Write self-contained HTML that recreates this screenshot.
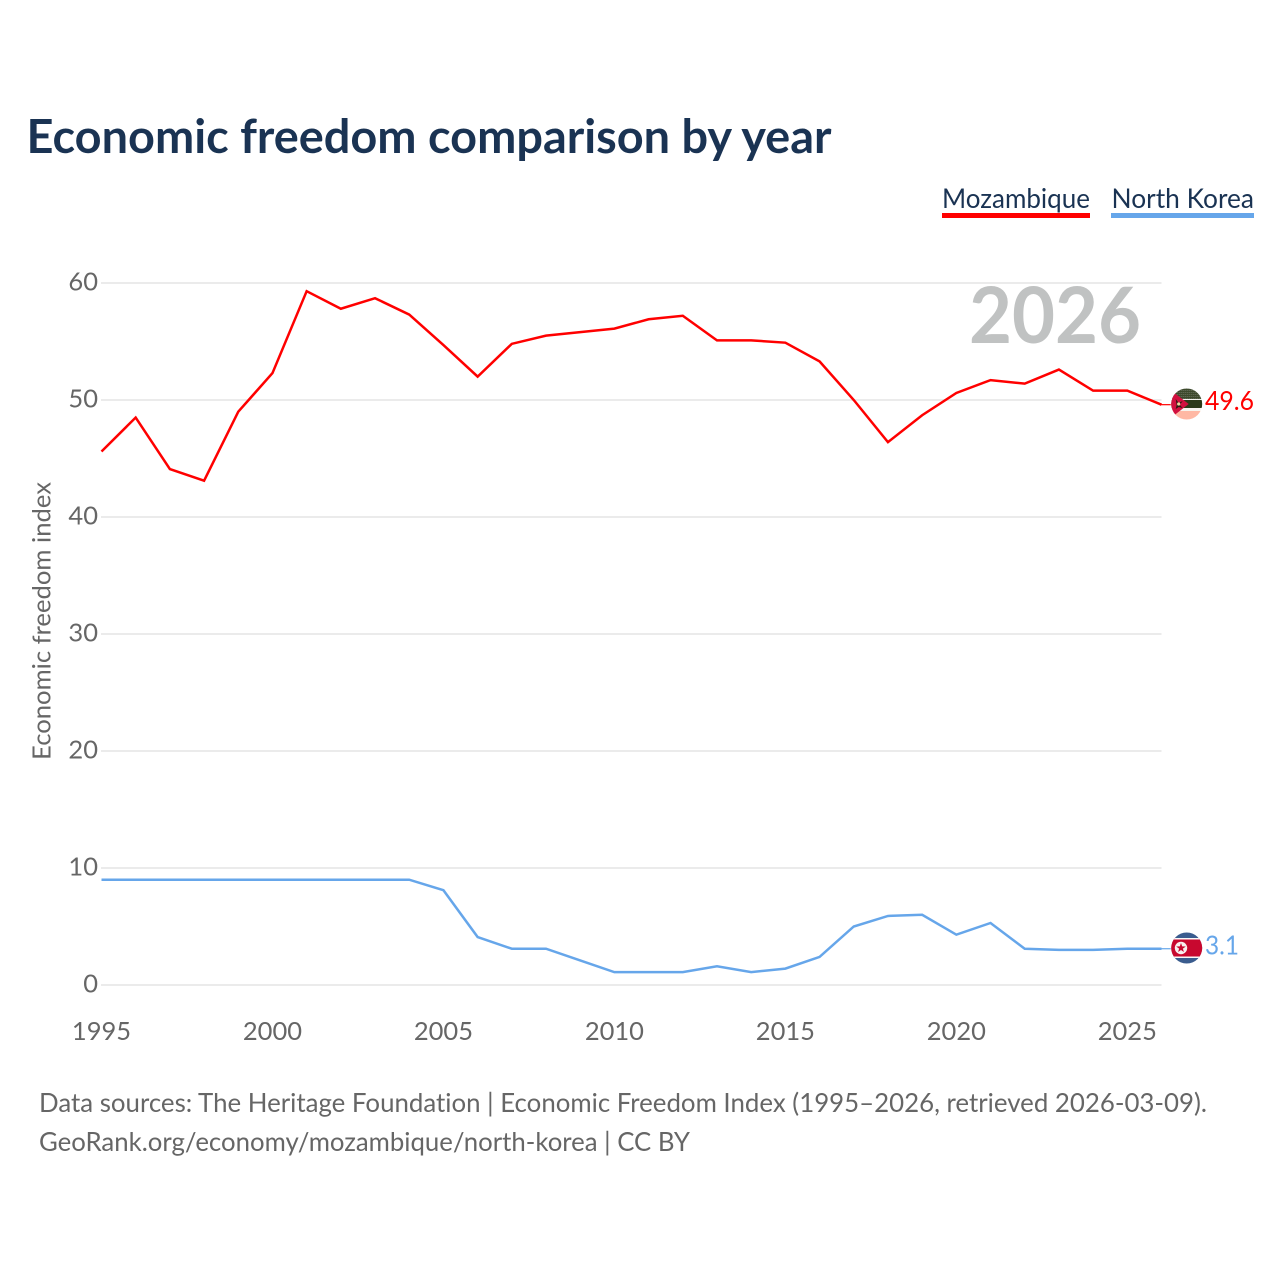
<!DOCTYPE html>
<html lang="en">
<head>
<meta charset="utf-8">
<title>Economic freedom comparison by year</title>
<style>
html,body{margin:0;padding:0;background:#fff;}
svg{display:block;font-family:"Lato","Carlito","Liberation Sans",sans-serif;font-variant-ligatures:none;}
</style>
</head>
<body>
<svg id="chart" xmlns="http://www.w3.org/2000/svg" width="1280" height="1280" viewBox="0 0 1280 1280">
  <rect width="1280" height="1280" fill="#ffffff"/>
  <text x="26.5" y="153" font-size="47" font-weight="700" fill="#1a3353" textLength="805" lengthAdjust="spacingAndGlyphs">Economic freedom comparison by year</text>

  <g>
    <text x="942" y="208" font-size="27.5" fill="#1a3353" textLength="148" lengthAdjust="spacingAndGlyphs">Mozambique</text>
    <rect x="942" y="213" width="148" height="5" fill="#ff0000"/>
  </g>
  <g>
    <text x="1111.5" y="208" font-size="27.5" fill="#1a3353" textLength="142.5" lengthAdjust="spacingAndGlyphs">North Korea</text>
    <rect x="1111" y="213" width="143" height="5" fill="#66a6ea"/>
  </g>

  <g id="grid"></g>
  <g id="yticks"></g>
  <g id="xticks"></g>

  <text transform="translate(50.5 760) rotate(-90)" font-size="25.5" fill="#666666" textLength="278" lengthAdjust="spacingAndGlyphs">Economic freedom index</text>
  <text x="969" y="343" font-size="78" font-weight="700" fill="#c0c2c2" textLength="172" lengthAdjust="spacingAndGlyphs">2026</text>

  <g id="lines"></g>

  <defs>
    <clipPath id="clip-moz"><circle cx="0" cy="0" r="15.5"/></clipPath>
    <clipPath id="clip-nk"><circle cx="0" cy="0" r="15.5"/></clipPath>
    <pattern id="moz-dots" width="2" height="2" patternUnits="userSpaceOnUse">
      <rect width="2" height="2" fill="#3d4a2c"/>
      <rect width="1" height="1" fill="#6b7360"/>
    </pattern>
  </defs>

  <g transform="translate(1186.7 404)">
    <circle r="16" fill="#ffffff"/>
    <g clip-path="url(#clip-moz)">
      <rect x="-16" y="-16" width="32" height="11" fill="url(#moz-dots)"/>
      <rect x="-16" y="-5" width="32" height="1" fill="#f2f2ee"/>
      <rect x="-16" y="-4" width="32" height="8" fill="#2b3a18"/>
      <rect x="-16" y="4" width="32" height="3" fill="#f7f4ee"/>
      <rect x="-16" y="7" width="32" height="9" fill="#ffb8a4"/>
      <path d="M-16,-14 L2,0 L-16,14 Z" fill="#d2103f"/>
      <path d="M-11,-5 L-8,-1 L-4,-3 L-7,1 L-4,4 L-8,3 L-11,5 L-10,1 Z" fill="#2a1a10"/>
      <circle cx="-8" cy="0" r="1.6" fill="#e8d8a0"/>
    </g>
  </g>
  <g transform="translate(1186.7 948)">
    <circle r="16" fill="#ffffff"/>
    <g clip-path="url(#clip-nk)">
      <rect x="-16" y="-16" width="32" height="32" fill="#3a5c8e"/>
      <rect x="-16" y="-10" width="32" height="20" fill="#f7f7f7"/>
      <rect x="-16" y="-8.5" width="32" height="17" fill="#c8082f"/>
      <circle cx="-5.7" cy="0" r="6.2" fill="#f8f0f0"/>
      <path d="M-5.7,-5 L-4.5,-1.6 L-0.9,-1.5 L-3.8,0.6 L-2.8,4 L-5.7,2 L-8.6,4 L-7.6,0.6 L-10.5,-1.5 L-6.9,-1.6 Z" fill="#c8082f"/>
    </g>
  </g>

  <text id="label-moz" x="1205" y="410" font-size="26" fill="#ff0000" textLength="49" lengthAdjust="spacingAndGlyphs"></text>
  <text id="label-nk" x="1205" y="954.5" font-size="26" fill="#66a6ea" textLength="34" lengthAdjust="spacingAndGlyphs"></text>

  <text x="39" y="1112" font-size="26" fill="#666666" textLength="1168" lengthAdjust="spacingAndGlyphs">Data sources: The Heritage Foundation | Economic Freedom Index (1995–2026, retrieved 2026-03-09).</text>
  <text x="39" y="1151" font-size="26" fill="#666666" textLength="651" lengthAdjust="spacingAndGlyphs">GeoRank.org/economy/mozambique/north-korea | CC BY</text>
</svg>
<script>
const years = [1995,1996,1997,1998,1999,2000,2001,2002,2003,2004,2005,2006,2007,2008,2009,2010,2011,2012,2013,2014,2015,2016,2017,2018,2019,2020,2021,2022,2023,2024,2025,2026];
const mozambique = [45.6,48.5,44.1,43.1,49.0,52.3,59.3,57.8,58.7,57.3,54.7,52.0,54.8,55.5,55.8,56.1,56.9,57.2,55.1,55.1,54.9,53.3,50.0,46.4,48.7,50.6,51.7,51.4,52.6,50.8,50.8,49.6];
const northKorea = [9,9,9,9,9,9,9,9,9,9,8.1,4.1,3.1,3.1,2.1,1.1,1.1,1.1,1.6,1.1,1.4,2.4,5.0,5.9,6.0,4.3,5.3,3.1,3.0,3.0,3.1,3.1];
const yTickValues = [0,10,20,30,40,50,60];
const xTickValues = [1995,2000,2005,2010,2015,2020,2025];

const SVG_NS = 'http://www.w3.org/2000/svg';
function xScale(year){ return 101.5 + (year - 1995) * (1161.5 - 101.5) / 31; }
function yScale(value){ return 985 - value * (985 - 283) / 60; }

const gridLayer = document.getElementById('grid');
const yLayer = document.getElementById('yticks');
const xLayer = document.getElementById('xticks');
const lineLayer = document.getElementById('lines');

yTickValues.forEach(function(v){
  const ln = document.createElementNS(SVG_NS, 'line');
  
  
  ln.setAttribute('x1', 101);
  ln.setAttribute('x2', 1161.5);
  ln.setAttribute('y1', yScale(v));
  ln.setAttribute('y2', yScale(v));
  ln.setAttribute('stroke', '#ebebeb');
  ln.setAttribute('stroke-width', '2');
  gridLayer.appendChild(ln);

  const t = document.createElementNS(SVG_NS, 'text');
  
  
  t.setAttribute('x', 98);
  t.setAttribute('y', yScale(v) + 7.5);
  t.setAttribute('text-anchor', 'end');
  t.setAttribute('font-size', '25.5');
  t.setAttribute('fill', '#666666');
  t.textContent = String(v);
  yLayer.appendChild(t);
});

xTickValues.forEach(function(y){
  const t = document.createElementNS(SVG_NS, 'text');
  
  
  t.setAttribute('x', xScale(y));
  t.setAttribute('y', 1040);
  t.setAttribute('text-anchor', 'middle');
  t.setAttribute('font-size', '25.5');
  t.setAttribute('fill', '#666666');
  t.textContent = String(y);
  xLayer.appendChild(t);
});

function linePoints(values){
  return years.map(function(y, i){ return xScale(y).toFixed(2) + ',' + yScale(values[i]).toFixed(2); }).join(' ');
}

const mozLine = document.createElementNS(SVG_NS, 'polyline');


mozLine.setAttribute('points', linePoints(mozambique));
mozLine.setAttribute('fill', 'none');
mozLine.setAttribute('stroke', '#ff0000');
mozLine.setAttribute('stroke-width', '2.5');
lineLayer.appendChild(mozLine);

const nkLine = document.createElementNS(SVG_NS, 'polyline');


nkLine.setAttribute('points', linePoints(northKorea));
nkLine.setAttribute('fill', 'none');
nkLine.setAttribute('stroke', '#66a6ea');
nkLine.setAttribute('stroke-width', '2.5');
lineLayer.appendChild(nkLine);

const mozConnector = document.createElementNS(SVG_NS, 'line');


mozConnector.setAttribute('x1', xScale(2026));
mozConnector.setAttribute('x2', 1171);
mozConnector.setAttribute('y1', yScale(mozambique[mozambique.length - 1]));
mozConnector.setAttribute('y2', yScale(mozambique[mozambique.length - 1]));
mozConnector.setAttribute('stroke', '#ff0000');
mozConnector.setAttribute('stroke-width', '1.2');
lineLayer.appendChild(mozConnector);

const nkConnector = document.createElementNS(SVG_NS, 'line');


nkConnector.setAttribute('x1', xScale(2026));
nkConnector.setAttribute('x2', 1171);
nkConnector.setAttribute('y1', yScale(northKorea[northKorea.length - 1]));
nkConnector.setAttribute('y2', yScale(northKorea[northKorea.length - 1]));
nkConnector.setAttribute('stroke', '#66a6ea');
nkConnector.setAttribute('stroke-width', '1.2');
lineLayer.appendChild(nkConnector);

document.getElementById('label-moz').textContent = mozambique[mozambique.length - 1].toFixed(1);
document.getElementById('label-nk').textContent = northKorea[northKorea.length - 1].toFixed(1);
</script>
</body>
</html>
